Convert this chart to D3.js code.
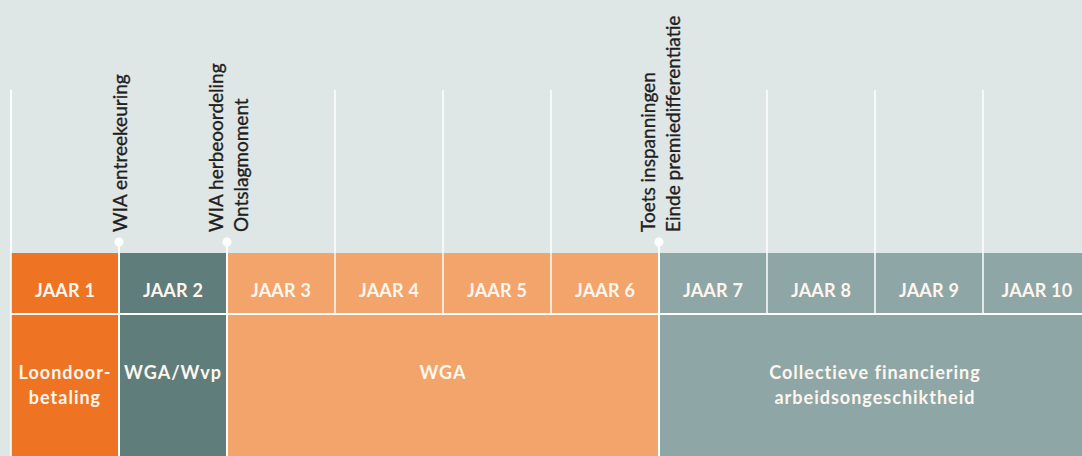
<!DOCTYPE html>
<html>
<head>
<meta charset="utf-8">
<script src="https://cdn.jsdelivr.net/npm/d3@7"></script>
<style>
  html, body { margin: 0; padding: 0; background: #dfe7e6; overflow: hidden; }
  svg { display: block; }
  .milestone { font-family: Lato, "Open Sans", sans-serif; font-size: 19px; fill: #1f1f1f;
               stroke: #1f1f1f; stroke-width: 0.35px; }
  .cell-label { font-family: Lato, "Open Sans", sans-serif; font-weight: 700; font-size: 18px;
                fill: #fdf6ee; text-anchor: middle; }
  .year-label { letter-spacing: 0.2px; }
  .phase-label { letter-spacing: 1px; }
</style>
</head>
<body>
<div id="chart"></div>
<script>
// Tijdlijn arbeidsongeschiktheid - jaren, fases en mijlpalen

const years = ['JAAR 1', 'JAAR 2', 'JAAR 3', 'JAAR 4', 'JAAR 5',
               'JAAR 6', 'JAAR 7', 'JAAR 8', 'JAAR 9', 'JAAR 10'];

const phases = ['Loondoorbetaling', 'WGA/Wvp', 'WGA', 'Collectieve financiering'];
const phaseStart = [0, 1, 2, 6];
const phaseEnd = [1, 2, 6, 10];
const phaseLabels = [
    ['Loondoor-', 'betaling'],
    ['WGA/Wvp'],
    ['WGA'],
    ['Collectieve financiering', 'arbeidsongeschiktheid']
];

const milestoneYears = [1, 2, 6];
const milestoneLabels = [
    ['WIA entreekeuring'],
    ['WIA herbeoordeling', 'Ontslagmoment'],
    ['Toets inspanningen', 'Einde premiedifferentiatie']
];

function drawTimeline(containerId) {
    const width = 1082;
    const height = 456;

    // vertical layout
    const gridTop = 90;
    const barTop = 253;
    const rowSplit = 314;
    const barBottom = 470;

    d3.select(`#${containerId}`).selectAll('*').remove();

    const svg = d3.select(`#${containerId}`)
        .append('svg')
        .attr('width', width)
        .attr('height', height);

    // one unit per year, chart runs a bit past the right edge
    const x = d3.scaleLinear()
        .domain([0, years.length])
        .range([11, 1091]);

    const color = d3.scaleOrdinal()
        .domain(phases)
        .range(['#ee7423', '#5f7d7b', '#f3a46b', '#8ea6a6']);

    const phaseOf = i => phases.find((p, k) => i >= phaseStart[k] && i < phaseEnd[k]);

    // grid lines above the bars (not at milestones, those get a marker)
    const boundaries = d3.range(0, years.length);
    svg.append('g')
        .selectAll('line')
        .data(boundaries.filter(b => !milestoneYears.includes(b)))
        .join('line')
        .attr('x1', d => x(d)).attr('x2', d => x(d))
        .attr('y1', gridTop).attr('y2', barTop)
        .style('stroke', '#fff')
        .style('stroke-width', 1.5);

    // year row
    const yearCells = svg.append('g')
        .selectAll('g')
        .data(years)
        .join('g');

    yearCells.append('rect')
        .attr('x', (d, i) => x(i))
        .attr('y', barTop)
        .attr('width', x(1) - x(0))
        .attr('height', rowSplit - barTop)
        .style('fill', (d, i) => color(phaseOf(i)));

    yearCells.append('text')
        .attr('class', 'cell-label year-label')
        .attr('x', (d, i) => (x(i) + x(i + 1)) / 2)
        .attr('y', 297)
        .text(d => d);

    // phase row
    const phaseCells = svg.append('g')
        .selectAll('g')
        .data(phases)
        .join('g');

    phaseCells.append('rect')
        .attr('x', (d, i) => x(phaseStart[i]))
        .attr('y', rowSplit)
        .attr('width', (d, i) => x(phaseEnd[i]) - x(phaseStart[i]))
        .attr('height', barBottom - rowSplit)
        .style('fill', d => color(d));

    phaseCells.append('text')
        .attr('class', 'cell-label phase-label')
        .attr('x', (d, i) => (x(phaseStart[i]) + x(phaseEnd[i])) / 2)
        .attr('y', 379)
        .selectAll('tspan')
        .data((d, i) => phaseLabels[i].map((t, j) => ({ t, j, mid: (x(phaseStart[i]) + x(phaseEnd[i])) / 2 })))
        .join('tspan')
        .attr('x', d => d.mid)
        .attr('dy', d => d.j === 0 ? 0 : 25)
        .text(d => d.t);

    // white dividers
    const dividers = svg.append('g')
        .style('stroke', '#fff')
        .style('stroke-width', 1.5);

    dividers.selectAll('.year-div')
        .data(boundaries)
        .join('line')
        .attr('class', 'year-div')
        .attr('x1', d => x(d)).attr('x2', d => x(d))
        .attr('y1', barTop).attr('y2', rowSplit);

    dividers.selectAll('.phase-div')
        .data(phaseStart)
        .join('line')
        .attr('class', 'phase-div')
        .attr('x1', d => x(d)).attr('x2', d => x(d))
        .attr('y1', rowSplit).attr('y2', barBottom);

    dividers.append('line')
        .attr('x1', x(0)).attr('x2', x(years.length))
        .attr('y1', rowSplit).attr('y2', rowSplit)
        .style('stroke-width', 2);

    // left edge line runs up to the grid top
    dividers.append('line')
        .attr('x1', x(0)).attr('x2', x(0))
        .attr('y1', gridTop).attr('y2', barTop);

    // milestones: marker dot + line down + rotated labels
    const markers = svg.append('g')
        .selectAll('g')
        .data(milestoneYears)
        .join('g');

    markers.append('line')
        .attr('x1', d => x(d)).attr('x2', d => x(d))
        .attr('y1', 242).attr('y2', barBottom)
        .style('stroke', '#fff')
        .style('stroke-width', 2);

    markers.append('circle')
        .attr('cx', d => x(d))
        .attr('cy', 242)
        .attr('r', 4.5)
        .style('fill', '#fff');

    markers.each(function(d, i) {
        const lines = milestoneLabels[i];
        const n = lines.length;
        d3.select(this).selectAll('text')
            .data(lines)
            .join('text')
            .attr('class', 'milestone')
            .attr('transform', (t, j) => {
                const bx = x(d) + 8 + (j - (n - 1) / 2) * 25;
                return `translate(${bx},232) rotate(-90)`;
            })
            .text(t => t);
    });
}

drawTimeline('chart');
</script>
</body>
</html>
